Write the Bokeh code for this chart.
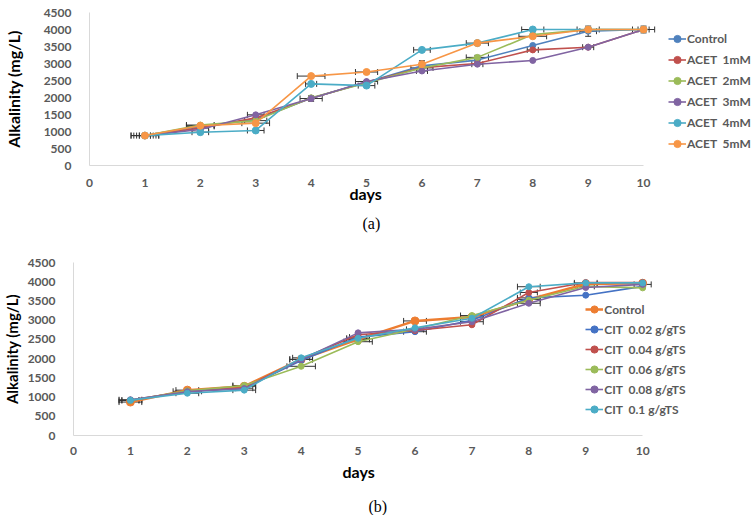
from bokeh.plotting import figure
from bokeh.models import (ColumnDataSource, Range1d, FixedTicker, Legend, LegendItem,
                          Whisker, TeeHead, Title)
from bokeh.layouts import column
from bokeh.embed import file_html
from bokeh.resources import INLINE

days = [1, 2, 3, 4, 5, 6, 7, 8, 9, 10]
x_ticks = [0, 1, 2, 3, 4, 5, 6, 7, 8, 9, 10]
y_ticks = [0, 500, 1000, 1500, 2000, 2500, 3000, 3500, 4000, 4500]

# ---- chart (a) ----
a_names = ["Control", "ACET  1mM", "ACET  2mM", "ACET  3mM", "ACET  4mM", "ACET  5mM"]
a_control = [880, 1150, 1350, 1980, 2450, 2930, 3100, 3530, 3950, 4000]
a_acet1 = [880, 1100, 1400, 1980, 2450, 2880, 3000, 3400, 3480, 4000]
a_acet2 = [880, 1190, 1320, 1990, 2430, 2870, 3180, 3850, 4000, 4000]
a_acet3 = [880, 1060, 1490, 1970, 2470, 2780, 2980, 3090, 3480, 4000]
a_acet4 = [880, 980, 1030, 2400, 2350, 3400, 3600, 4000, 4000, 4000]
a_acet5 = [880, 1170, 1245, 2630, 2750, 2980, 3600, 3800, 4000, 4000]
a_xerr = [
    [0.25, 0.25, 0, 0, 0, 0, 0, 0, 0.15, 0.1],
    [0.2, 0.15, 0, 0, 0, 0, 0, 0.1, 0, 0],
    [0.15, 0.25, 0.2, 0, 0, 0.2, 0.2, 0, 0, 0],
    [0.1, 0, 0.15, 0.2, 0.2, 0.1, 0.1, 0, 0.1, 0],
    [0.1, 0.15, 0.15, 0.1, 0.15, 0.15, 0, 0.2, 0, 0],
    [0.25, 0.25, 0.25, 0.25, 0.2, 0, 0.2, 0.25, 0.2, 0.2],
]
a_yerr = [
    [0, 0, 0, 0, 0, 0, 0, 0, 150, 0],
    [0, 0, 0, 0, 0, 0, 0, 0, 0, 0],
    [0, 0, 0, 0, 0, 0, 60, 0, 0, 0],
    [0, 0, 0, 80, 0, 0, 0, 0, 0, 0],
    [0, 0, 0, 0, 0, 0, 0, 0, 0, 0],
    [0, 0, 0, 0, 0, 100, 0, 0, 0, 100],
]
a_colors = ["#4F81BD", "#C0504D", "#9BBB59", "#8064A2", "#4BACC6", "#F79646"]

# ---- chart (b) ----
b_names = ["Control", "CIT  0.02 g/gTS", "CIT  0.04 g/gTS", "CIT  0.06 g/gTS",
           "CIT  0.08 g/gTS", "CIT  0.1 g/gTS"]
b_control = [870, 1180, 1280, 1980, 2500, 2980, 3080, 3540, 3940, 3960]
b_cit002 = [910, 1150, 1230, 1950, 2560, 2700, 3000, 3580, 3650, 3880]
b_cit004 = [920, 1150, 1240, 1990, 2620, 2730, 2880, 3720, 3980, 3980]
b_cit006 = [910, 1160, 1300, 1800, 2440, 2770, 3120, 3520, 3880, 3840]
b_cit008 = [930, 1140, 1220, 1980, 2670, 2760, 2960, 3440, 3850, 3930]
b_cit01 = [920, 1100, 1180, 2020, 2530, 2800, 3050, 3870, 3970, 3970]
b_xerr = [
    [0.2, 0.2, 0.2, 0.2, 0.2, 0.2, 0.2, 0.2, 0.2, 0],
    [0.2, 0.25, 0.15, 0, 0.15, 0.2, 0, 0.2, 0, 0],
    [0, 0, 0, 0, 0, 0, 0, 0.15, 0, 0],
    [0.15, 0, 0.2, 0.25, 0.25, 0, 0.2, 0, 0.15, 0],
    [0.2, 0, 0, 0.2, 0, 0.15, 0.2, 0.2, 0, 0.15],
    [0.15, 0.2, 0.2, 0.15, 0.2, 0, 0, 0.2, 0.2, 0],
]
b_colors = ["#ED7D31", "#4472C4", "#C0504D", "#9BBB59", "#8064A2", "#4BACC6"]

SANS = "Lato"
GRAY = "#595959"


def make_chart(names, series, colors, xerr, yerr, frame_w, frame_h, x_end, left, top,
               bottom, legend_xy, spacing, days_offset, days_standoff, caption, cap_offset,
               cap_standoff, label_size, ylab_standoff, tick_standoff, thick_first):
    p = figure(frame_width=frame_w, frame_height=frame_h, output_backend="svg",
               toolbar_location=None, x_range=Range1d(0, x_end), y_range=Range1d(0, 4500),
               min_border_left=left, min_border_top=top, min_border_bottom=bottom,
               min_border_right=0)
    p.outline_line_color = None
    p.grid.visible = False
    p.background_fill_color = "white"
    p.border_fill_color = "white"
    p.xaxis.ticker = FixedTicker(ticks=x_ticks)
    p.yaxis.ticker = FixedTicker(ticks=y_ticks)
    p.xaxis.bounds = (0, 10)
    for ax in (p.xaxis, p.yaxis):
        ax.axis_line_color = "#D9D9D9"
        ax.major_tick_line_color = None
        ax.minor_tick_line_color = None
        ax.major_label_text_font = SANS
        ax.major_label_text_font_style = "bold"
        ax.major_label_text_font_size = "12px"
        ax.major_label_text_color = GRAY
        ax.axis_label_text_font = SANS
        ax.axis_label_text_font_style = "bold"
        ax.axis_label_text_color = "black"
    p.xaxis.major_label_standoff = tick_standoff
    p.yaxis.axis_label = "Alkalinity (mg/L)"
    p.yaxis.axis_label_text_font_size = label_size
    p.yaxis.major_label_standoff = 12
    p.yaxis.axis_label_standoff = ylab_standoff

    items = []
    for i, (nm, ys, col) in enumerate(zip(names, series, colors)):
        src = ColumnDataSource(dict(x=days, y=ys))
        lw = 2.5 if (thick_first and i == 0) else 1.6
        ms = 8 if (thick_first and i == 0) else 6
        if not thick_first and col in ("#4BACC6", "#F79646"):
            ms = 7
        r1 = p.line("x", "y", source=src, line_color=col, line_width=lw)
        r2 = p.scatter("x", "y", source=src, size=ms, fill_color=col, line_color=col)
        items.append(LegendItem(label=nm, renderers=[r1, r2]))
        xb, xl, xu = [], [], []
        for d, v, e in zip(days, ys, xerr[i]):
            if e > 0:
                xb.append(v); xl.append(d - e); xu.append(d + e)
        if xb:
            w = Whisker(source=ColumnDataSource(dict(base=xb, lower=xl, upper=xu)),
                        base="base", lower="lower", upper="upper", dimension="width",
                        line_color="#333333", line_width=1,
                        upper_head=TeeHead(size=6, line_color="#333333", line_width=1),
                        lower_head=TeeHead(size=6, line_color="#333333", line_width=1))
            p.add_layout(w)
        if yerr is not None:
            yb, yl, yu = [], [], []
            for d, v, e in zip(days, ys, yerr[i]):
                if e > 0:
                    yb.append(d); yl.append(v - e); yu.append(v + e)
            if yb:
                w = Whisker(source=ColumnDataSource(dict(base=yb, lower=yl, upper=yu)),
                            base="base", lower="lower", upper="upper", dimension="height",
                            line_color="#333333", line_width=1,
                            upper_head=TeeHead(size=6, line_color="#333333", line_width=1),
                            lower_head=TeeHead(size=6, line_color="#333333", line_width=1))
                p.add_layout(w)

    leg = Legend(items=items, location=legend_xy, orientation="vertical")
    leg.border_line_color = None
    leg.background_fill_alpha = 0
    leg.padding = 0
    leg.margin = 0
    leg.spacing = 0
    leg.glyph_width = 18
    leg.glyph_height = spacing
    leg.label_height = spacing
    leg.label_standoff = 1
    leg.label_text_font = SANS
    leg.label_text_font_style = "bold"
    leg.label_text_font_size = "12px"
    leg.label_text_color = GRAY
    p.add_layout(leg)

    dt = Title(text="days", align="left", offset=days_offset, text_font=SANS,
               text_font_size="16px", text_font_style="bold", text_color="black",
               standoff=days_standoff)
    p.add_layout(dt, "below")
    t = Title(text=caption, align="left", offset=cap_offset, text_font="Liberation Serif",
              text_font_size="16px", text_font_style="normal", text_color="black",
              standoff=cap_standoff)
    p.add_layout(t, "below")
    return p


p1 = make_chart(a_names, [a_control, a_acet1, a_acet2, a_acet3, a_acet4, a_acet5],
                a_colors, a_xerr, a_yerr, 666, 153, 12.02, 89, 12, 85, (579, 11), 21,
                260, -26, "(a)", 273, 46, "16px", 18, 7, False)
p2 = make_chart(b_names, [b_control, b_cit002, b_cit004, b_cit006, b_cit008, b_cit01],
                b_colors, b_xerr, None, 682, 173, 11.965, 73, 8, 80, (527, 16), 20,
                269, 5, "(b)", 295, 24, "15px", 4, 5, True)
p2.margin = (0, 0, 0, -16)

layout = column(p1, p2, spacing=0)
open("out.html", "w").write(file_html(layout, INLINE))
